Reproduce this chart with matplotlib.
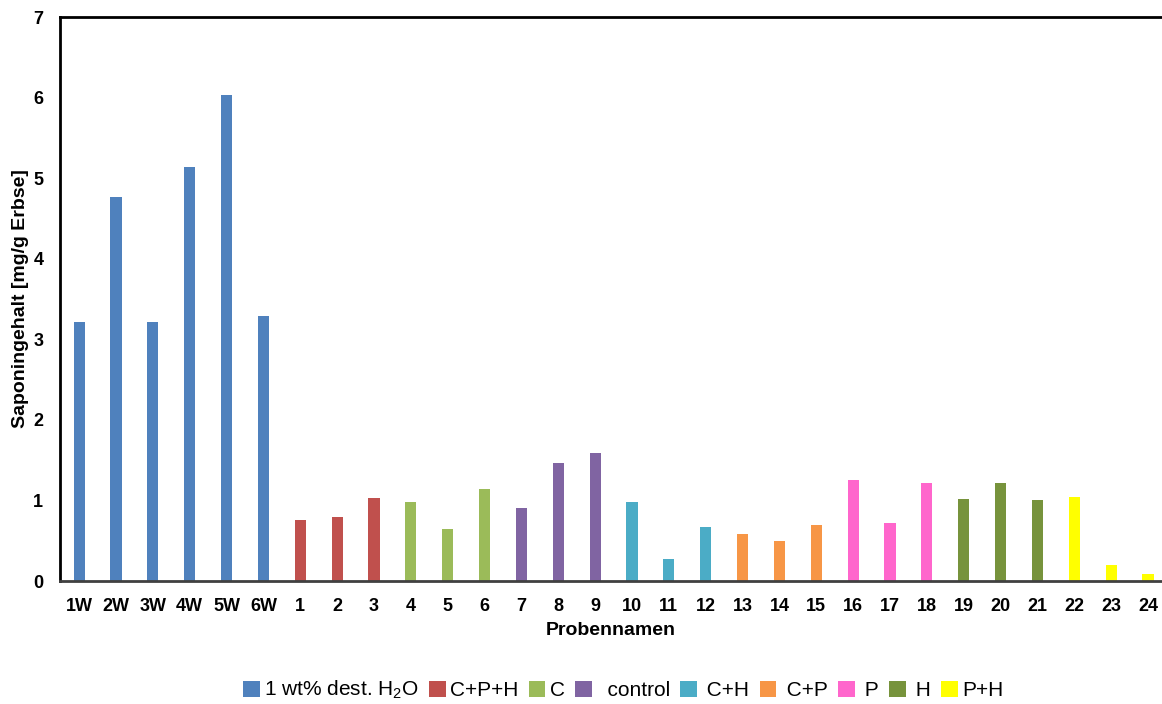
import matplotlib.pyplot as plt
import numpy as np

plt.rcParams['font.family'] = ['Liberation Sans', 'DejaVu Sans']
plt.rcParams['mathtext.fontset'] = 'custom'
plt.rcParams['mathtext.rm'] = 'Liberation Sans'
plt.rcParams['mathtext.it'] = 'Liberation Sans:italic'

# data
names = ['1W', '2W', '3W', '4W', '5W', '6W'] + [str(i) for i in range(1, 25)]
values = [3.21, 4.76, 3.21, 5.14, 6.03, 3.29,
          0.76, 0.80, 1.03, 0.98, 0.65, 1.14, 0.91, 1.46, 1.59,
          0.98, 0.27, 0.67, 0.58, 0.50, 0.69, 1.25, 0.72, 1.22,
          1.02, 1.22, 1.00, 1.04, 0.20, 0.09]
groups = ['1 wt% dest. H$_2$O', 'C+P+H', 'C', '  control', ' C+H', ' C+P', ' P', ' H', 'P+H']
group_size = [6, 3, 3, 3, 3, 3, 3, 3, 3]
colors = ['#4F81BD', '#C0504D', '#9BBB59', '#8064A2', '#4BACC6',
          '#F79646', '#FF66CC', '#77933C', '#FFFF00']

fig = plt.figure(figsize=(11.62, 7.04), dpi=100)
ax = fig.add_axes([60/1162, 1-581/704, 1-60/1162, (581-17)/704])

x = np.arange(len(names))
start = 0
for g, n, c in zip(groups, group_size, colors):
    ax.bar(x[start:start+n], values[start:start+n], width=0.3, color=c, label=g)
    start += n

ax.set_xlim(-0.52, 29.38)
ax.set_ylim(0, 7)
ax.set_yticks(range(8))
ax.set_xticks(x)
ax.set_xticklabels(names, fontweight='bold', fontsize=13)
for lab in ax.get_yticklabels():
    lab.set_fontweight('bold')
    lab.set_fontsize(13)
ax.tick_params(axis='both', length=0)
ax.tick_params(axis='x', pad=12)
ax.tick_params(axis='y', pad=12)

ax.spines['right'].set_visible(False)
ax.spines['left'].set_linewidth(2)
ax.spines['top'].set_linewidth(2)
ax.spines['bottom'].set_linewidth(2)
ax.spines['bottom'].set_color('#404040')

ax.set_xlabel('Probennamen', fontweight='bold', fontsize=14, labelpad=5)
ax.set_ylabel('Saponingehalt [mg/g Erbse]', fontweight='bold', fontsize=14, labelpad=3)

fig.legend(loc='center', bbox_to_anchor=(623/1162, 1-690/704), ncol=9, frameon=False,
           fontsize=15, handlelength=0.8, handleheight=0.8, handletextpad=0.2,
           columnspacing=0.5, borderaxespad=0)

fig.savefig('out.png', dpi=100)
